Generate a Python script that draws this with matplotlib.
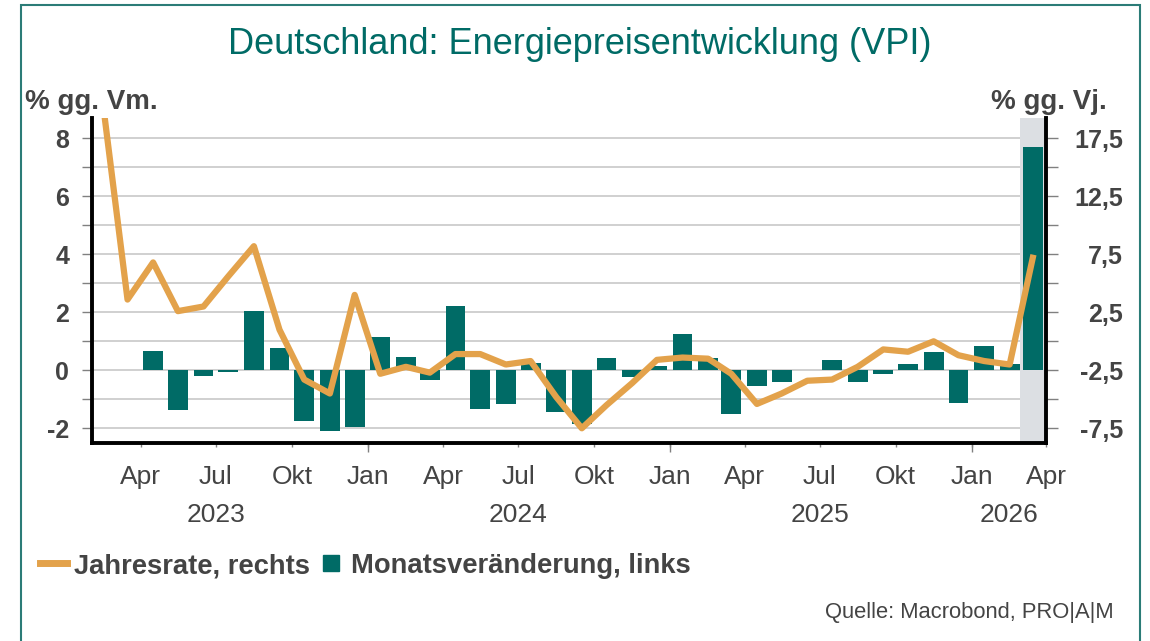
import matplotlib
matplotlib.use('Agg')

import matplotlib.pyplot as plt
import matplotlib.dates as mdates
import matplotlib.transforms as mtransforms
from matplotlib.lines import Line2D
from matplotlib.patches import Rectangle
from matplotlib.ticker import FixedLocator, FuncFormatter
import numpy as np
import pandas as pd

# -----------------------------
# DATA
# -----------------------------
months = pd.date_range('2023-02-01', '2026-03-01', freq='MS')

# Jahresrate, % gg. Vj. (right axis)
yoy = [19.5, 3.6, 6.8, 2.6, 3.0, 5.6, 8.2, 1.0, -3.3, -4.5, 4.0,
       -2.8, -2.2, -2.7, -1.1, -1.1, -2.0, -1.7, -4.8, -7.5, -5.5, -3.6, -1.6,
       -1.4, -1.5, -2.8, -5.4, -4.5, -3.4, -3.3, -2.2, -0.7, -0.9, 0.0, -1.2,
       -1.7, -2.0, 7.2]

# Monatsveraenderung, % gg. Vm. (left axis)
mom = [np.nan, np.nan, 0.65, -1.37, -0.2, -0.07, 2.06, 0.78, -1.75, -2.11, -1.95,
       1.16, 0.47, -0.33, 2.23, -1.32, -1.15, 0.26, -1.43, -1.85, 0.41, -0.22, 0.14,
       1.25, 0.41, -1.51, -0.55, -0.41, 0.0, 0.34, -0.41, -0.14, 0.2, 0.63, -1.12,
       0.84, 0.2, 7.7]

left_ticks = [-2, 0, 2, 4, 6, 8]
right_ticks = [-7.5, -2.5, 2.5, 7.5, 12.5, 17.5]
month_names = {1: 'Jan', 4: 'Apr', 7: 'Jul', 10: 'Okt'}
years = ['2023', '2024', '2025', '2026']
year_pos = ['2023-07-01', '2024-07-01', '2025-07-01', '2026-02-15']

TEAL = '#006b66'
ORANGE = '#e3a24b'
TXT = '#444444'
TICK = '#808080'

plt.rcParams['font.family'] = ['Liberation Sans', 'DejaVu Sans']

fig = plt.figure(figsize=(11.5, 6.41), dpi=100)
ax = fig.add_axes([92 / 1150, 1 - 443 / 641, (1046 - 92) / 1150, (443 - 118) / 641])
ax2 = ax.twinx()

x = months + pd.Timedelta(days=15)

# -----------------------------
# BARS + LINE
# -----------------------------
ax.axvspan(pd.Timestamp('2026-03-01'), pd.Timestamp('2026-04-01'),
           color='#dcdfe3', lw=0, zorder=1)
ax.bar(x, mom, width=24, color=TEAL, zorder=2)
ax2.plot(x, yoy, color=ORANGE, lw=4.5, zorder=3)

lo, hi = -2.507, 8.7
ax.set_ylim(lo, hi)
ax2.set_ylim(2.5 * lo - 2.5, 2.5 * hi - 2.5)
ax.set_xlim(pd.Timestamp('2023-02-01'), pd.Timestamp('2026-04-01'))

# grid every unit on the left scale
ax.set_axisbelow(True)
ax.yaxis.set_minor_locator(FixedLocator(np.arange(-2, 9, 1)))
ax.grid(axis='y', which='both', color='#c8c8c8', lw=1.2)

ax.set_yticks(left_ticks)
ax.set_yticklabels([str(t) for t in left_ticks], fontweight='bold',
                   fontsize=18, color=TXT)
ax.tick_params(axis='y', which='both', length=7.5, width=1, color=TICK, pad=9)

ax2.set_yticks(right_ticks)
ax2.set_yticklabels([f'{t:.1f}'.replace('.', ',') for t in right_ticks],
                    fontweight='bold', fontsize=18, color=TXT, ha='right')
ax2.yaxis.set_minor_locator(FixedLocator([-5, 0, 5, 10, 15]))
ax2.tick_params(axis='y', which='both', length=8.5, width=1, color=TICK, pad=47)

# x axis: quarter labels, longer tick at Jan
ax.xaxis.set_major_locator(mdates.MonthLocator(bymonth=[1, 4, 7, 10]))
ax.xaxis.set_major_formatter(
    FuncFormatter(lambda v, p: month_names[mdates.num2date(v).month]))
ax.xaxis.set_minor_locator(mdates.MonthLocator(bymonth=[1]))
ax.xaxis.remove_overlapping_locs = False
ax.tick_params(axis='x', which='major', length=3, width=1, color=TICK,
               pad=13, labelsize=19, labelcolor=TXT)
ax.tick_params(axis='x', which='minor', length=6.5, width=1, color=TICK)

trans = mtransforms.blended_transform_factory(ax.transData, fig.transFigure)
for yr, pos in zip(years, year_pos):
    ax.text(mdates.date2num(pd.Timestamp(pos)), 1 - 522 / 641, yr,
            transform=trans, ha='center', va='baseline', fontsize=19, color=TXT)

# spines
for s in ['top', 'right']:
    ax.spines[s].set_visible(False)
for s in ['top', 'left', 'bottom']:
    ax2.spines[s].set_visible(False)
for sp in [ax.spines['left'], ax.spines['bottom'], ax2.spines['right']]:
    sp.set_linewidth(2.8)
    sp.set_color('black')

# -----------------------------
# TEXTS
# -----------------------------
fig.text(580 / 1150, 1 - 54 / 641, 'Deutschland: Energiepreisentwicklung (VPI)',
         ha='center', va='baseline', fontsize=26, color=TEAL)
fig.text(25 / 1150, 1 - 109 / 641, '% gg. Vm.', ha='left', va='baseline',
         fontsize=20, fontweight='bold', color=TXT)
fig.text(1107 / 1150, 1 - 109 / 641, '% gg. Vj.', ha='right', va='baseline',
         fontsize=20, fontweight='bold', color=TXT)
fig.text(1114 / 1150, 1 - 618 / 641, 'Quelle: Macrobond, PRO|A|M', ha='right',
         va='baseline', fontsize=15.8, color=TXT)

handles = [Line2D([], [], color=ORANGE, lw=5),
           Line2D([], [], color=TEAL, marker='s', ms=11, ls='none')]
fig.legend(handles, ['Jahresrate, rechts', 'Monatsveränderung, links'],
           loc='center left', bbox_to_anchor=(40 / 1150, 1 - 566 / 641),
           ncol=2, frameon=False, prop={'weight': 'bold', 'size': 19.7},
           labelcolor=TXT, handlelength=1.0, handletextpad=0.25,
           columnspacing=0.25, borderpad=0, borderaxespad=0)

# frame around the chart
fig.add_artist(Rectangle((21 / 1150, -0.05), (1140 - 21) / 1150, 1.05 - 5 / 641,
                         transform=fig.transFigure, fill=False,
                         ec='#2b7c77', lw=1.5))

fig.savefig('out.png', dpi=100)
plt.close(fig)
